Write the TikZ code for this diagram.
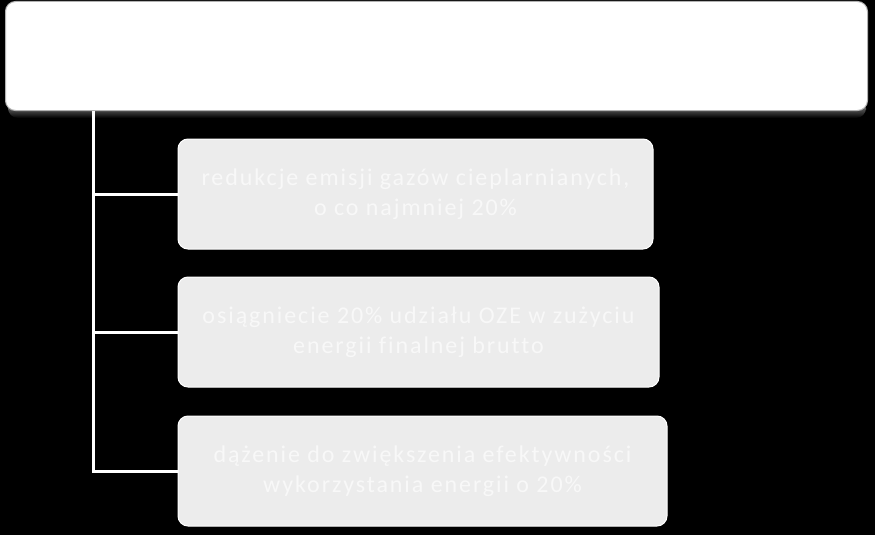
\documentclass[tikz,border=0pt]{standalone}
\usepackage{fontspec}
\setmainfont{Carlito}
\newfontfamily\goalfont[LetterSpace=8,Ligatures=NoCommon]{Carlito}
\usetikzlibrary{positioning}

\definecolor{goalgray}{HTML}{ECECEC}
\definecolor{goaltext}{HTML}{F8F8F8}

\tikzset{
  goal/.style={draw=white, line width=1pt, fill=goalgray, rounded corners=10pt,
    minimum height=110pt, align=center, inner sep=0pt, text=goaltext,
    font=\goalfont\fontsize{24}{30}\selectfont},
  branch/.style={white, line width=3pt}
}

\begin{document}
\begin{tikzpicture}[x=1pt,y=-1pt]
  \fill [black] (0,0) rectangle (875,535);

  %\shade under the header
  \shade [top color=gray!70, bottom color=black, rounded corners=10pt] (8,100) rectangle (866,118);
  \node [draw=gray!60, line width=1pt, fill=white, rounded corners=10pt, minimum width=862pt, minimum height=109pt] (head) at (436.5,56) {};

  \node [goal, minimum width=475pt] (ghg) at (415.5,194) {redukcje emisji gazów cieplarnianych,\\o co najmniej 20\%};
  \node [goal, minimum width=481pt] (oze) at (418.5,332) {osiągniecie 20\% udziału OZE w zużyciu\\energii finalnej brutto};
  \node [goal, minimum width=489pt] (eff) at (422.5,471) {dążenie do zwiększenia efektywności\\wykorzystania energii o 20\%};

  \coordinate (trunk) at (93.5,111);
  \draw [branch] (trunk) |- (ghg.west);
  \draw [branch] (trunk) |- (oze.west);
  \draw [branch] (trunk) |- (eff.west);
\end{tikzpicture}
\end{document}
